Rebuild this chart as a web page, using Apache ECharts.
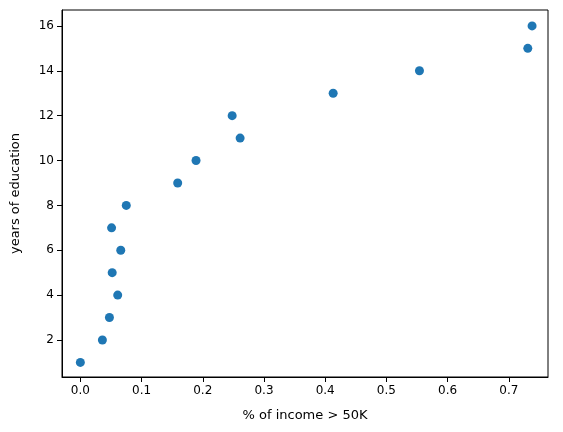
<!DOCTYPE html>
<html><head><meta charset="utf-8">
<script src="https://cdn.jsdelivr.net/npm/echarts@6/dist/echarts.min.js"></script>
<style>html,body{margin:0;padding:0;background:#fff}#c{width:563px;height:432px}</style>
</head><body><div id="c"></div>
<script>
const incomeShare = [0.0,0.036,0.0475,0.061,0.052,0.066,0.051,0.075,0.159,0.189,0.261,0.248,0.413,0.554,0.731,0.738];
const educationYears = [1,2,3,4,5,6,7,8,9,10,11,12,13,14,15,16];
const xTicks = [0,0.1,0.2,0.3,0.4,0.5,0.6,0.7];
const yTicks = [2,4,6,8,10,12,14,16];
const data = incomeShare.map((v,i)=>[v,educationYears[i]]);
const font = 'DejaVu Sans';
const chart = echarts.init(document.getElementById('c'),null,{renderer:'canvas'});
chart.setOption({
  animation:false,
  grid:{left:62,right:15,top:10,bottom:55,show:true,borderColor:'#000',borderWidth:1,backgroundColor:'transparent'},
  xAxis:{type:'value',min:-0.03,max:0.764,
    name:'% of income > 50K',nameLocation:'middle',nameGap:32,
    nameTextStyle:{fontFamily:font,fontSize:13,color:'#000'},
    axisLine:{show:true,onZero:false,lineStyle:{color:'#000'}},
    axisTick:{show:true,length:5,inside:false,customValues:xTicks,lineStyle:{color:'#000'}},
    axisLabel:{customValues:xTicks,fontFamily:font,fontSize:12,color:'#000',margin:8,formatter:v=>v.toFixed(1)},
    splitLine:{show:false}},
  yAxis:{type:'value',min:0.35,max:16.71,
    name:'years of education',nameLocation:'middle',nameGap:40,
    nameTextStyle:{fontFamily:font,fontSize:13,color:'#000'},
    axisLine:{show:true,onZero:false,lineStyle:{color:'#000'}},
    axisTick:{show:true,length:5,customValues:yTicks,lineStyle:{color:'#000'}},
    axisLabel:{customValues:yTicks,fontFamily:font,fontSize:12,color:'#000',margin:8},
    splitLine:{show:false}},
  series:[{type:'scatter',data:data,symbolSize:9,itemStyle:{color:'#1f77b4',opacity:1}}]
});
</script></body></html>
